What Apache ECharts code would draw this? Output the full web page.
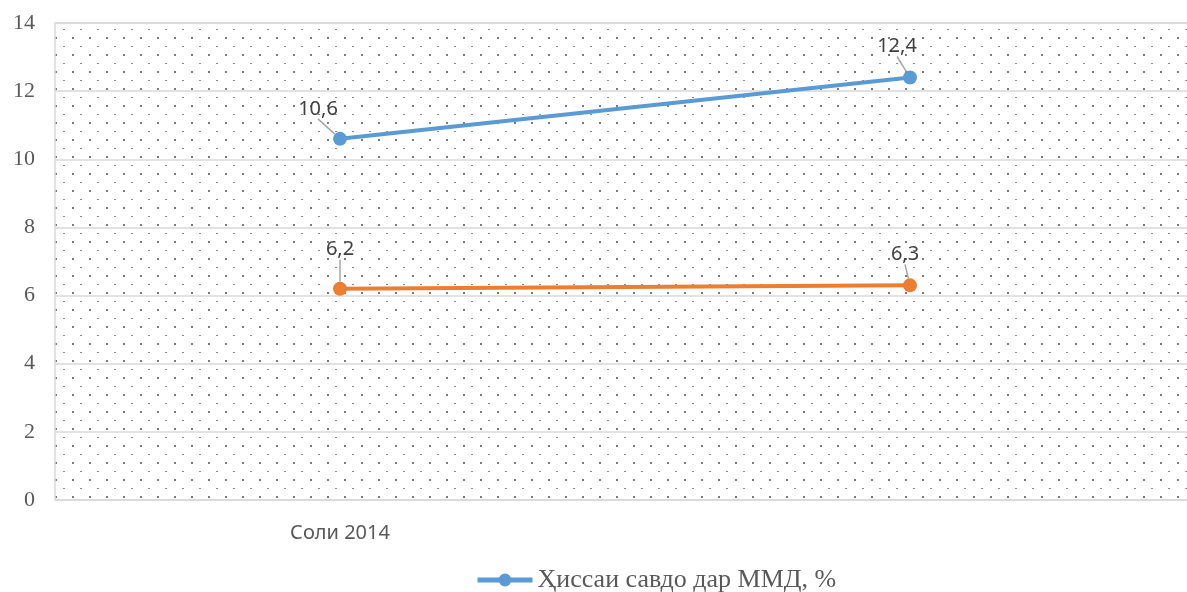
<!DOCTYPE html>
<html>
<head>
<meta charset="utf-8">
<script src="https://cdn.jsdelivr.net/npm/echarts@6/dist/echarts.min.js"></script>
<style>
html, body { margin: 0; padding: 0; background: #fff; }
#chart { width: 1187px; height: 592px; }
</style>
</head>
<body>
<div id="chart"></div>
<script>
var categories = ['Соли 2014', ''];
var tradeShare = [10.6, 12.4];   // Ҳиссаи савдо дар ММД, %
var secondSeries = [6.2, 6.3];
var yTicks = [0, 2, 4, 6, 8, 10, 12, 14];

// label shifts (px) relative to default 'top' position
var blueShift = [[-22, -8], [-13, -9]];
var orangeShift = [[0, -17], [-5, -9]];

// dotted fill like the office "dotted grid" pattern
function dotTile() {
    var c = document.createElement('canvas');
    c.width = 17; c.height = 17;
    var g = c.getContext('2d');
    g.fillStyle = '#7a7a7a';
    g.fillRect(4, 3, 2, 2);
    g.fillStyle = '#8c8c8c';
    g.fillRect(12, 12, 2, 1);
    return c;
}

var myChart = echarts.init(document.getElementById('chart'));

function fmt(p) {
    return String(p.value).replace('.', ',');
}

var option = {
    animation: false,
    grid: {
        left: 55, top: 23, width: 1140, height: 477,
        outerBoundsMode: 'none',
        show: true,
        backgroundColor: { image: dotTile(), repeat: 'repeat' },
        borderColor: '#d9d9d9', borderWidth: 1.5
    },
    legend: {
        data: ['Ҳиссаи савдо дар ММД, %'],
        top: 562, left: 470,
        itemWidth: 55, itemHeight: 16, itemGap: 6,
        lineStyle: { width: 5 },
        textStyle: { fontFamily: 'Liberation Serif', fontSize: 26, color: '#595959' }
    },
    xAxis: {
        type: 'category',
        data: categories,
        boundaryGap: true,
        axisLine: { show: false },
        axisTick: { show: false },
        axisLabel: { margin: 23, fontFamily: 'Noto Sans', fontSize: 20, color: '#595959' }
    },
    yAxis: {
        type: 'value',
        min: yTicks[0], max: yTicks[yTicks.length - 1], interval: 2,
        axisLine: { show: false },
        axisTick: { show: false },
        axisLabel: { margin: 20, fontFamily: 'Liberation Serif', fontSize: 22, color: '#595959' },
        splitLine: { lineStyle: { color: '#d9d9d9', width: 1.5 } }
    },
    series: [{
        name: 'Ҳиссаи савдо дар ММД, %',
        type: 'line',
        data: tradeShare,
        symbol: 'circle', symbolSize: 14,
        lineStyle: { color: '#5b9bd5', width: 4 },
        itemStyle: { color: '#5b9bd5' },
        label: { show: true, position: 'top', distance: 5, formatter: fmt,
                 fontFamily: 'Noto Sans', fontSize: 20, color: '#404040' },
        labelLine: { show: true, lineStyle: { color: '#a6a6a6', width: 1.5 } },
        labelLayout: function (p) {
            var s = blueShift[p.dataIndex];
            return { dx: s[0], dy: s[1] };
        }
    }, {
        name: 'Ҳиссаи 2',
        type: 'line',
        data: secondSeries,
        symbol: 'circle', symbolSize: 14,
        lineStyle: { color: '#ed7d31', width: 4 },
        itemStyle: { color: '#ed7d31' },
        label: { show: true, position: 'top', distance: 5, formatter: fmt,
                 fontFamily: 'Noto Sans', fontSize: 20, color: '#404040' },
        labelLine: { show: true, lineStyle: { color: '#a6a6a6', width: 1.5 } },
        labelLayout: function (p) {
            var s = orangeShift[p.dataIndex];
            return { dx: s[0], dy: s[1] };
        }
    }]
};
myChart.setOption(option);
</script>
</body>
</html>
